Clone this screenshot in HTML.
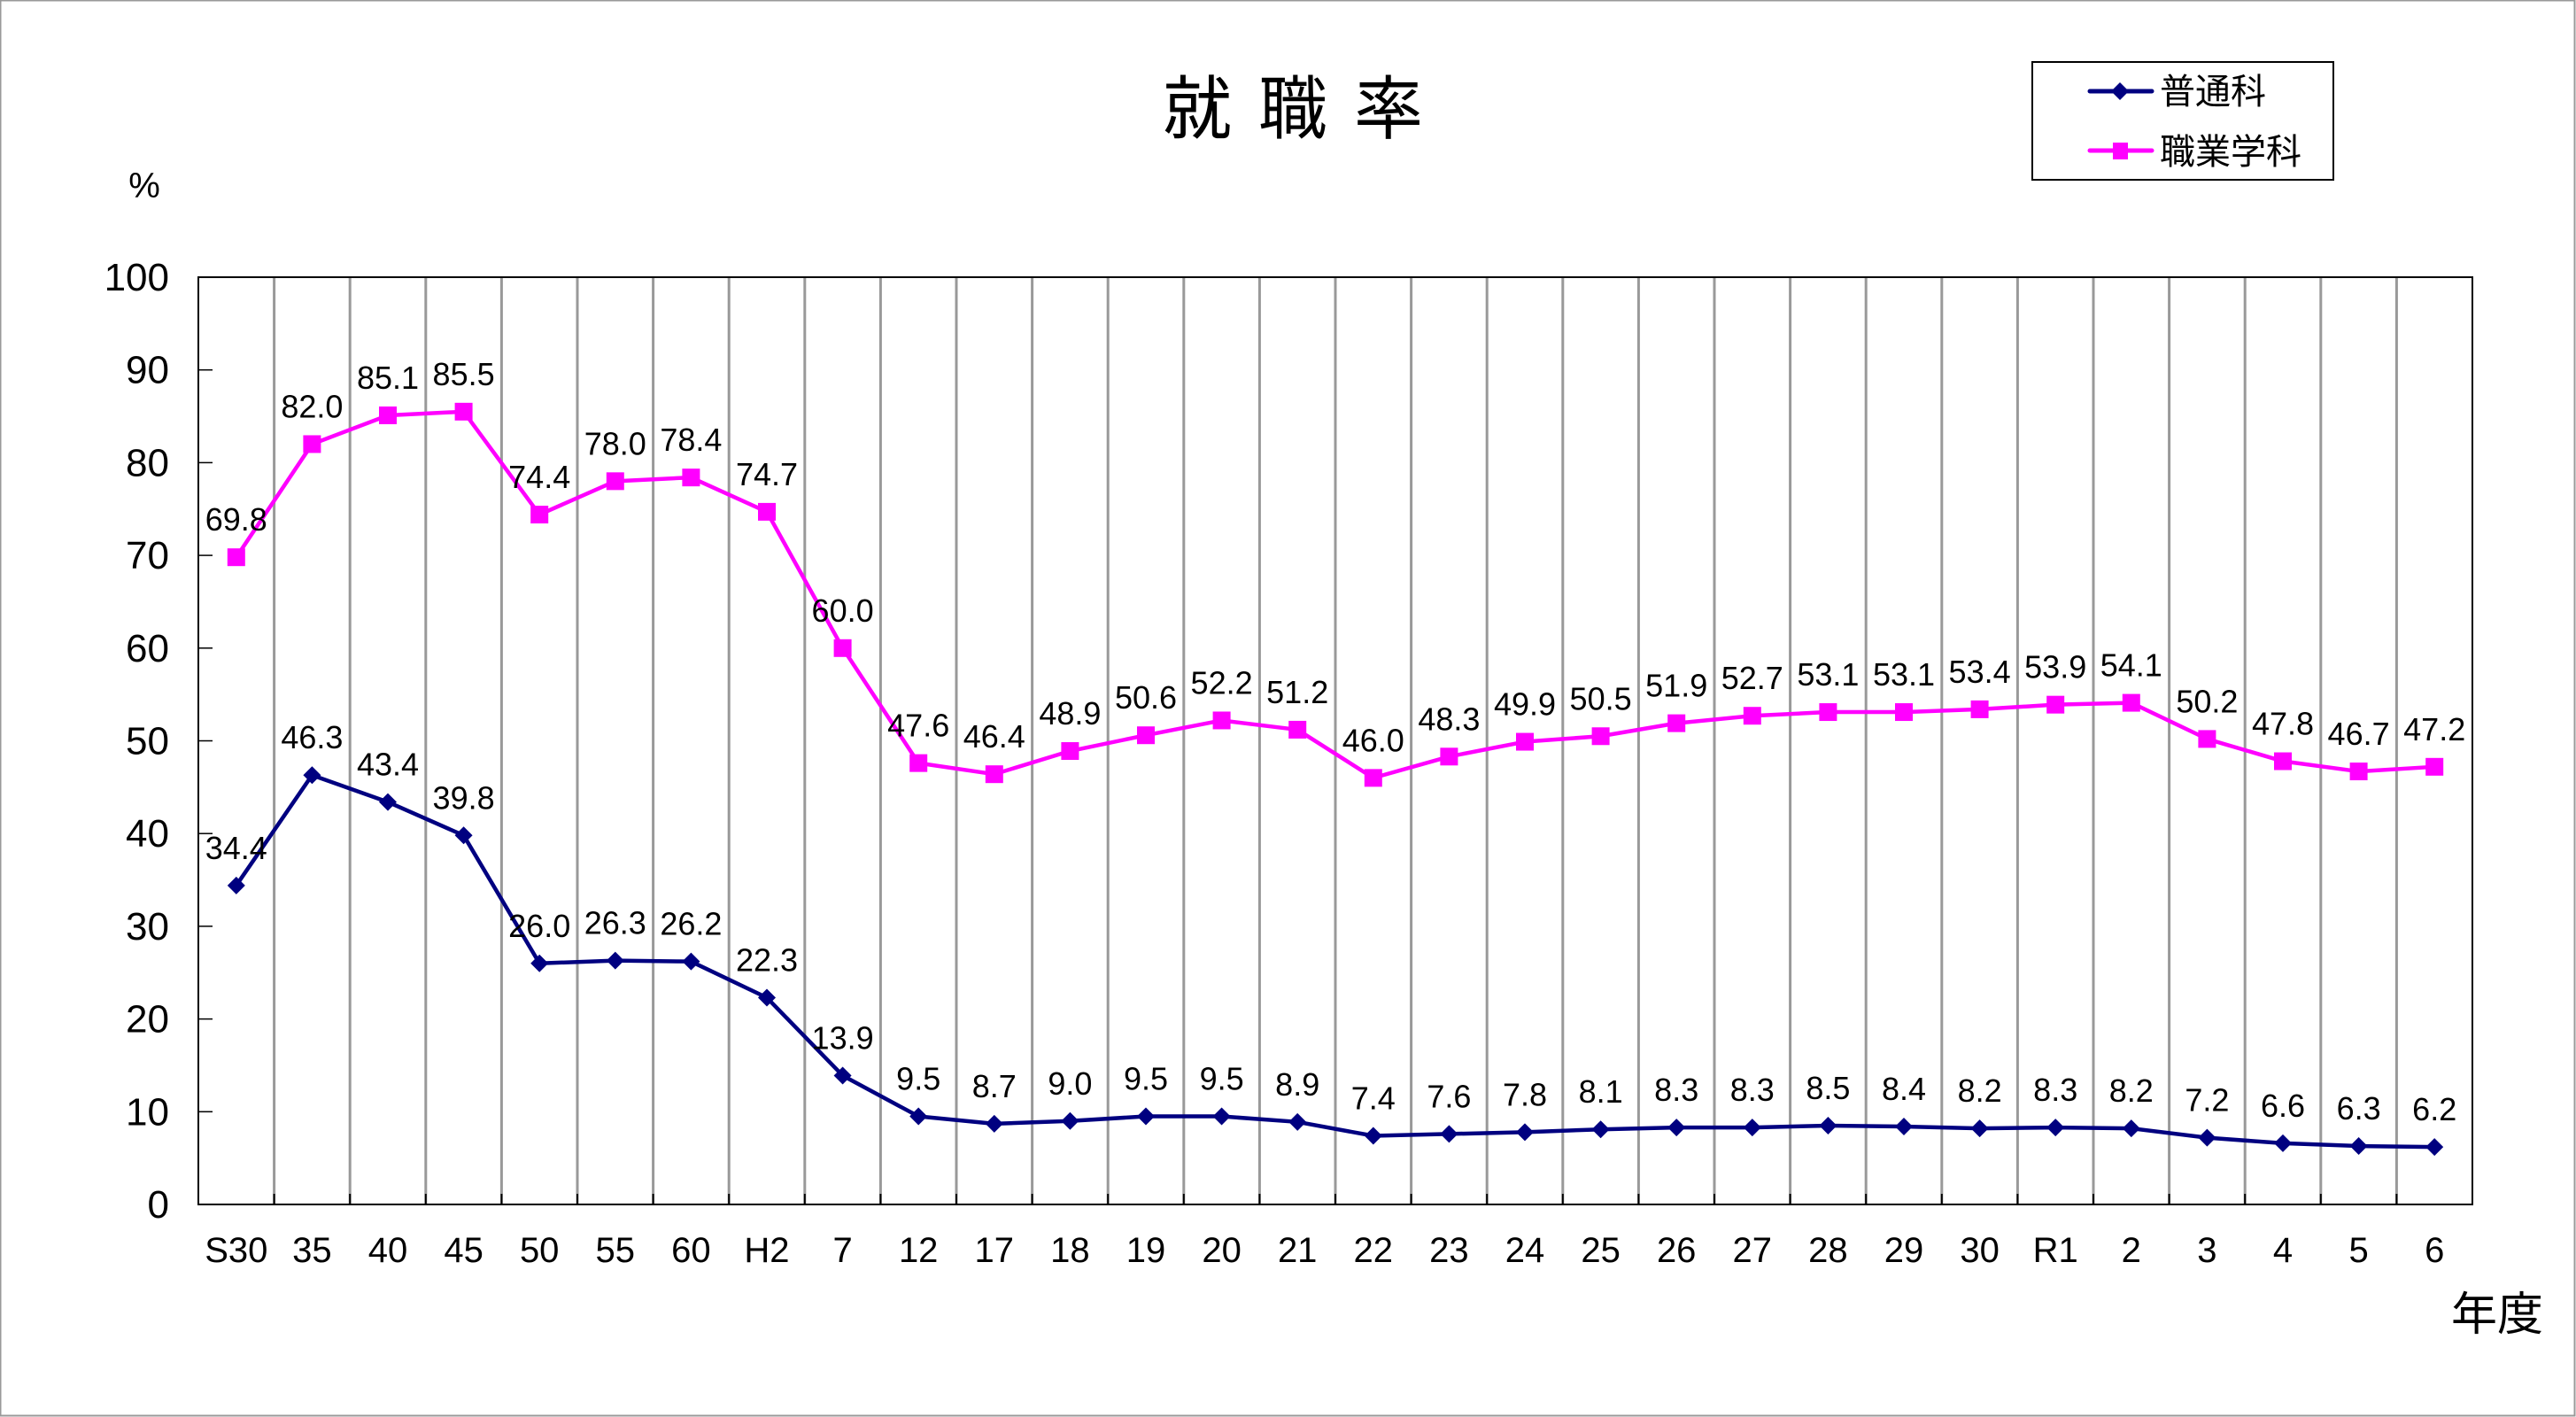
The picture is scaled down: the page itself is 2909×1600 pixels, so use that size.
<!DOCTYPE html>
<html><head><meta charset="utf-8"><style>
html,body{margin:0;padding:0;background:#fff}
svg{display:block}
text{font-family:"Liberation Sans","Noto Sans CJK JP",sans-serif}
</style></head><body>
<svg id="chart" width="2909" height="1600" viewBox="0 0 2909 1600" xmlns="http://www.w3.org/2000/svg">
<rect x="0.5" y="0.5" width="2907" height="1598" fill="#fff" stroke="#999" stroke-width="2"/>
<g font-size="78" text-anchor="middle">
<text x="1352" y="150">就</text><text x="1460" y="150">職</text><text x="1568" y="150">率</text>
</g>
<text x="163" y="223" font-size="40" text-anchor="middle">%</text>
<text x="2820" y="1502" font-size="52" text-anchor="middle">年度</text>
<g id="grid"></g>
<g id="axes"></g>
<g id="series"></g>
<g>
<rect x="2295" y="70" width="340" height="133" fill="#fff" stroke="#000" stroke-width="2"/>
<g>
<line x1="2360" y1="103" x2="2430" y2="103" stroke="#000080" stroke-width="5" stroke-linecap="round"/>
<polygon points="2394,93 2404,103 2394,113 2384,103" fill="#000080"/>
<text x="2439" y="117" font-size="40" font-family="'Noto Serif CJK SC','Noto Sans CJK JP',serif">普通科</text>
</g>
<g>
<line x1="2360" y1="170" x2="2430" y2="170" stroke="#ff00ff" stroke-width="5" stroke-linecap="round"/>
<rect x="2386" y="161" width="17" height="19" fill="#ff00ff"/>
<text x="2439" y="185" font-size="40">職業学科</text>
</g>
</g>
</svg>
<script>
const categories = ["S30","35","40","45","50","55","60","H2","7","12","17","18","19","20","21","22","23","24","25","26","27","28","29","30","R1","2","3","4","5","6"];
const generalValues = [34.4,46.3,43.4,39.8,26.0,26.3,26.2,22.3,13.9,9.5,8.7,9.0,9.5,9.5,8.9,7.4,7.6,7.8,8.1,8.3,8.3,8.5,8.4,8.2,8.3,8.2,7.2,6.6,6.3,6.2];
const vocationalValues = [69.8,82.0,85.1,85.5,74.4,78.0,78.4,74.7,60.0,47.6,46.4,48.9,50.6,52.2,51.2,46.0,48.3,49.9,50.5,51.9,52.7,53.1,53.1,53.4,53.9,54.1,50.2,47.8,46.7,47.2];
const yTicks = [0,10,20,30,40,50,60,70,80,90,100];

const NS = "http://www.w3.org/2000/svg";
const L = 224, R = 2792, T = 313, B = 1360;
const band = (R - L) / categories.length;
function xPos(i){ return L + band * (i + 0.5); }
function yPos(v){ return B - (v / 100) * (B - T); }
function mk(tag, attrs, parent){
  const e = document.createElementNS(NS, tag);
  for (const k in attrs) e.setAttribute(k, attrs[k]);
  parent.appendChild(e);
  return e;
}
const grid = document.getElementById('grid');
const axes = document.getElementById('axes');
const series = document.getElementById('series');

for (let i = 1; i < categories.length; i++) {
  const x = L + band * i;
  const g = mk('line', {x1:x, y1:T, x2:x, y2:B, stroke:'#999', 'stroke-width':3}, grid);
  
  
  const tk = mk('line', {x1:x, y1:B-12, x2:x, y2:B, stroke:'#000', 'stroke-width':2}, axes);
  
  
}
const frame = mk('rect', {x:L, y:T, width:R-L, height:B-T, fill:'none', stroke:'#000', 'stroke-width':2}, axes);



yTicks.forEach(v => {
  const y = yPos(v);
  if (v > 0 && v < 100) {
    const t = mk('line', {x1:L, y1:y, x2:L+16, y2:y, stroke:'#000', 'stroke-width':1.5}, axes);
    
    
  }
  const lb = mk('text', {x:191, y:y+15, 'font-size':44, 'text-anchor':'end'}, axes);
  
  
  lb.textContent = v;
});
categories.forEach((c, i) => {
  const lb = mk('text', {x:xPos(i), y:1425, 'font-size':40, 'text-anchor':'middle'}, axes);
  
  
  lb.textContent = c;
});

function drawSeries(vals, color, marker, name){
  const g = mk('g', {}, series);
  
  
  const pts = vals.map((v, i) => xPos(i) + ',' + yPos(v)).join(' ');
  const pl = mk('polyline', {points:pts, fill:'none', stroke:color, 'stroke-width':4.5, 'stroke-linejoin':'round'}, g);
  
  
  vals.forEach((v, i) => {
    const x = xPos(i), y = yPos(v);
    let m;
    if (marker === 'diamond') {
      m = mk('polygon', {points:`${x},${y-10} ${x+10},${y} ${x},${y+10} ${x-10},${y}`, fill:color}, g);
    } else {
      m = mk('rect', {x:x-10, y:y-10, width:20, height:20, fill:color}, g);
    }
    
    
    const t = mk('text', {x:x, y:y-30, 'font-size':36, 'text-anchor':'middle'}, g);
    
    
    t.textContent = v.toFixed(1);
  });
}
drawSeries(generalValues, '#000080', 'diamond', 'general-course');
drawSeries(vocationalValues, '#ff00ff', 'square', 'vocational-course');
</script>
</body></html>
